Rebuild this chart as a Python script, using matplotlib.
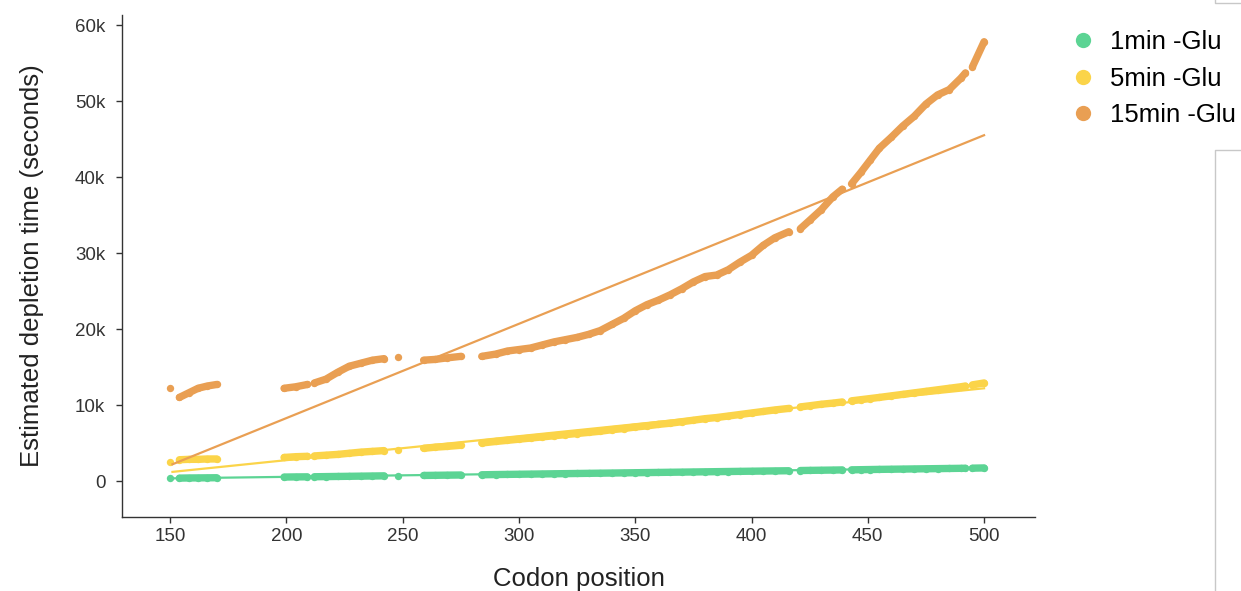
import numpy as np
import matplotlib
matplotlib.use("Agg")
import matplotlib.pyplot as plt
from matplotlib.lines import Line2D

plt.rcParams['font.family'] = ['Liberation Sans', 'DejaVu Sans']

nan = np.nan

# codon positions, nan rows in the series mark the gaps in the data
codon = [150,
         152,
         154, 158, 162, 166, 170,
         185,
         199, 204, 209,
         210.5,
         212, 217, 222, 227, 232, 237, 242,
         244,
         248,
         254,
         259, 264, 269, 275,
         279,
         284, 290, 295, 300, 305, 310, 315, 320, 325, 330, 335, 340, 345, 350,
         355, 360, 365, 370, 375, 380, 385, 390, 395, 400, 405, 410, 416,
         418,
         421, 425, 430, 435, 439,
         441,
         443, 447, 451, 455, 460, 465, 470, 475, 480, 485, 490, 492,
         493,
         495, 500]

glu15 = [12200,
         nan,
         11000, 11600, 12200, 12500, 12700,
         nan,
         12200, 12400, 12700,
         nan,
         12900, 13400, 14300, 15100, 15500, 15900, 16100,
         nan,
         16300,
         nan,
         15900, 16000, 16200, 16400,
         nan,
         16400, 16700, 17100, 17300, 17500, 17900, 18300, 18600, 18900, 19300, 19800, 20600, 21400, 22400,
         23200, 23800, 24500, 25300, 26200, 26900, 27100, 27800, 28800, 29700, 31000, 32000, 32800,
         nan,
         33200, 34300, 35700, 37400, 38400,
         nan,
         39100, 40600, 42200, 43800, 45200, 46700, 48000, 49600, 50800, 51500, 53000, 53700,
         nan,
         54500, 57800]

glu5 = [2500,
        nan,
        2800, 2850, 2850, 2900, 2900,
        nan,
        3100, 3200, 3250,
        nan,
        3300, 3400, 3500, 3650, 3800, 3900, 4000,
        nan,
        4100,
        nan,
        4300, 4450, 4550, 4700,
        nan,
        5000, 5200, 5350, 5500, 5650, 5800, 5950, 6100, 6250, 6400, 6550, 6750, 6900, 7100,
        7250, 7450, 7600, 7800, 8000, 8200, 8350, 8550, 8750, 8950, 9150, 9350, 9550,
        nan,
        9750, 9900, 10100, 10250, 10400,
        nan,
        10550, 10700, 10850, 11000, 11200, 11400, 11600, 11800, 12000, 12200, 12400, 12500,
        nan,
        12650, 12900]

glu1 = [350,
        nan,
        380, 400, 410, 420, 430,
        nan,
        520, 540, 550,
        nan,
        560, 580, 600, 620, 640, 660, 680,
        nan,
        700,
        nan,
        730, 750, 770, 790,
        nan,
        820, 850, 870, 890, 910, 930, 950, 970, 990, 1010, 1030, 1050, 1070, 1090,
        1110, 1130, 1150, 1170, 1190, 1210, 1230, 1250, 1270, 1290, 1310, 1330, 1350,
        nan,
        1380, 1400, 1420, 1440, 1460,
        nan,
        1470, 1490, 1510, 1530, 1550, 1570, 1590, 1610, 1630, 1650, 1670, 1680,
        nan,
        1690, 1720]

# linear fits (end points)
fit_x = [151, 500]
fit15 = [2200, 45500]
fit5 = [1200, 12200]
fit1 = [350, 1750]

labels = ['1min -Glu', '5min -Glu', '15min -Glu']
colors = ['#5cd494', '#fbd449', '#e99f53']

fig = plt.figure(figsize=(12.41, 5.91), dpi=100)
ax = fig.add_axes([0.0983, 0.1252, 0.7357, 0.8494])

for ys, c in zip([glu1, glu5, glu15], colors):
    ax.plot(codon, ys, '-o', color=c, lw=5.3, ms=5.3, mew=0,
            solid_capstyle='round', solid_joinstyle='round')

for ys, c in zip([fit1, fit5, fit15], colors):
    ax.plot(fit_x, ys, '-', color=c, lw=1.6)

ax.set_xlim(129.3, 521.9)
ax.set_ylim(-4737, 61316)
ax.set_xticks(range(150, 501, 50))
yt = list(range(0, 60001, 10000))
ax.set_yticks(yt)
ax.set_yticklabels(['0' if v == 0 else f'{v // 1000}k' for v in yt])

for s in ['top', 'right']:
    ax.spines[s].set_visible(False)
for s in ['left', 'bottom']:
    ax.spines[s].set_color('#333333')
    ax.spines[s].set_linewidth(1.0)
ax.tick_params(labelsize=13.5, colors='#333333', length=4, width=1, pad=4)
ax.tick_params(axis='y', pad=8)

ax.set_xlabel('Codon position', fontsize=18.5, color='#222222', labelpad=16)
ax.set_ylabel('Estimated depletion time (seconds)', fontsize=18.5, color='#222222', labelpad=22)

handles = [Line2D([], [], ls='', marker='o', ms=11, mew=0, color=c) for c in colors]
fig.legend(handles, labels, loc='upper left', bbox_to_anchor=(0.852, 0.967),
           frameon=False, fontsize=18.5, handletextpad=0.45, labelspacing=0.5,
           handlelength=1.2, borderaxespad=0)

# panel frame edges at the right border of the screenshot
fig.add_artist(Line2D([1215 / 1241, 1215 / 1241, 1.0], [1.0, 1 - 3 / 591, 1 - 3 / 591],
                      color='#c8c8c8', lw=1, transform=fig.transFigure))
fig.add_artist(Line2D([1.0, 1215 / 1241, 1215 / 1241], [1 - 150 / 591, 1 - 150 / 591, 0.0],
                      color='#c8c8c8', lw=1, transform=fig.transFigure))

fig.savefig('out.png', dpi=100)
